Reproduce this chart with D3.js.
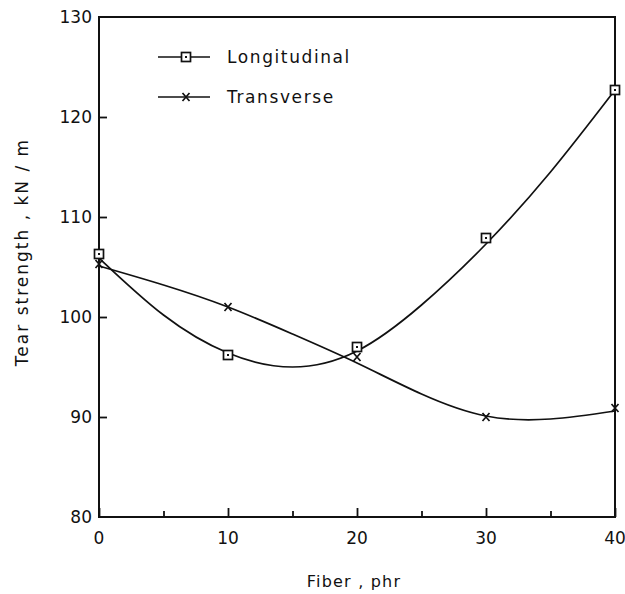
<!DOCTYPE html>
<html>
<head>
<meta charset="utf-8">
<script src="https://cdn.jsdelivr.net/npm/d3@7"></script>
<style>
  body { margin: 0; background: #fff; }
  text { font-family: "DejaVu Sans", sans-serif; fill: #111; }
</style>
</head>
<body>
<div id="chart"></div>
<script>
// Tear strength vs fiber loading

// measured points
var fiber = [0, 10, 20, 30, 40];
var longitudinal = [106.3, 96.2, 97.0, 107.9, 122.7];
var transverse = [105.3, 101.0, 96.0, 90.0, 90.9];

// fitted curves, every 5 phr
var fitX = [0, 5, 10, 15, 20, 25, 30, 35, 40];
var longFitY = [105.9, 100.2, 96.4, 95.0, 96.6, 101.2, 107.3, 114.5, 122.7];
var transFitY = [105.1, 103.2, 101.0, 98.3, 95.4, 92.3, 90.1, 89.8, 90.6];

var xTicks = [0, 10, 20, 30, 40];
var xMinor = [5, 15, 25, 35];
var yTicks = [80, 90, 100, 110, 120, 130];
var seriesNames = ["Longitudinal", "Transverse"];

var width = 625, height = 594;
var margin = {top: 17, right: 10, bottom: 77, left: 99};

var x = d3.scaleLinear()
    .domain([0, 40])
    .range([margin.left, 615]);
var y = d3.scaleLinear()
    .domain([80, 130])
    .range([height - margin.bottom, margin.top]);

var svg = d3.select("#chart")
  .append("svg")
    .attr("width", width)
    .attr("height", height);

// frame
svg.append("rect")
    .attr("x", x(0))
    .attr("y", y(130))
    .attr("width", x(40) - x(0))
    .attr("height", y(80) - y(130))
    .attr("fill", "none")
    .attr("stroke", "#111")
    .attr("stroke-width", 2);

// x axis, ticks pointing inward
var xAxis = svg.append("g")
    .attr("transform", "translate(0," + y(80) + ")")
    .call(d3.axisTop(x).tickValues(xTicks).tickSize(9).tickFormat(""));
xAxis.select(".domain").remove();
xAxis.selectAll("line").attr("stroke", "#111").attr("stroke-width", 1.8);

var xMinorAxis = svg.append("g")
    .attr("transform", "translate(0," + y(80) + ")")
    .call(d3.axisTop(x).tickValues(xMinor).tickSize(6).tickFormat(""));
xMinorAxis.select(".domain").remove();
xMinorAxis.selectAll("line").attr("stroke", "#111").attr("stroke-width", 1.8);

svg.selectAll(".xlab")
    .data(xTicks)
  .enter().append("text")
    .attr("class", "xlab")
    .attr("x", function(d) { return x(d); })
    .attr("y", y(80) + 27)
    .attr("text-anchor", "middle")
    .attr("font-size", 17)
    .text(function(d) { return d; });

// y axis
var yAxis = svg.append("g")
    .attr("transform", "translate(" + x(0) + ",0)")
    .call(d3.axisRight(y).tickValues(yTicks.slice(1, -1)).tickSize(8).tickFormat(""));
yAxis.select(".domain").remove();
yAxis.selectAll("line").attr("stroke", "#111").attr("stroke-width", 1.8);

svg.selectAll(".ylab")
    .data(yTicks)
  .enter().append("text")
    .attr("class", "ylab")
    .attr("x", x(0) - 7)
    .attr("y", function(d) { return y(d) + 6; })
    .attr("text-anchor", "end")
    .attr("font-size", 17)
    .text(function(d) { return d; });

// axis titles
svg.append("text")
    .attr("transform", "translate(28," + 252 + ") rotate(-90)")
    .attr("text-anchor", "middle")
    .attr("font-size", 17)
    .attr("letter-spacing", 2)
    .text("Tear strength , kN / m");

svg.append("text")
    .attr("x", 354)
    .attr("y", 587)
    .attr("text-anchor", "middle")
    .attr("font-size", 16)
    .attr("letter-spacing", 1.2)
    .text("Fiber , phr");

// curves
var line = d3.line()
    .x(function(d) { return x(d[0]); })
    .y(function(d) { return y(d[1]); })
    .curve(d3.curveNatural);

svg.append("path")
    .datum(d3.zip(fitX, longFitY))
    .attr("d", line)
    .attr("fill", "none")
    .attr("stroke", "#111")
    .attr("stroke-width", 1.7);

svg.append("path")
    .datum(d3.zip(fitX, transFitY))
    .attr("d", line)
    .attr("fill", "none")
    .attr("stroke", "#111")
    .attr("stroke-width", 1.7);

// markers
function drawSquare(g, cx, cy) {
  g.append("rect")
      .attr("x", cx - 4.5).attr("y", cy - 4.5)
      .attr("width", 9).attr("height", 9)
      .attr("fill", "#fff")
      .attr("stroke", "#111")
      .attr("stroke-width", 1.7);
  g.append("rect")
      .attr("x", cx - 1).attr("y", cy - 1)
      .attr("width", 2).attr("height", 2)
      .attr("fill", "#111");
}

function drawCross(g, cx, cy) {
  g.append("path")
      .attr("d", "M" + (cx - 3.5) + "," + (cy - 4) + "L" + (cx + 3.5) + "," + (cy + 4) +
                 "M" + (cx + 3.5) + "," + (cy - 4) + "L" + (cx - 3.5) + "," + (cy + 4))
      .attr("stroke", "#111")
      .attr("stroke-width", 1.7);
}

var marks = svg.append("g");
fiber.forEach(function(f, i) {
  drawSquare(marks, x(f), y(longitudinal[i]));
  drawCross(marks, x(f), y(transverse[i]));
});

// legend
var legend = svg.append("g");
seriesNames.forEach(function(name, i) {
  var ly = 57 + i * 40;
  legend.append("line")
      .attr("x1", 158).attr("x2", 210)
      .attr("y1", ly).attr("y2", ly)
      .attr("stroke", "#111")
      .attr("stroke-width", 1.5);
  if (i == 0) drawSquare(legend, 186, ly);
  else drawCross(legend, 186, ly);
  legend.append("text")
      .attr("x", 227)
      .attr("y", ly + 6)
      .attr("font-size", 17)
      .attr("letter-spacing", 1.6)
      .text(name);
});
</script>
</body>
</html>
